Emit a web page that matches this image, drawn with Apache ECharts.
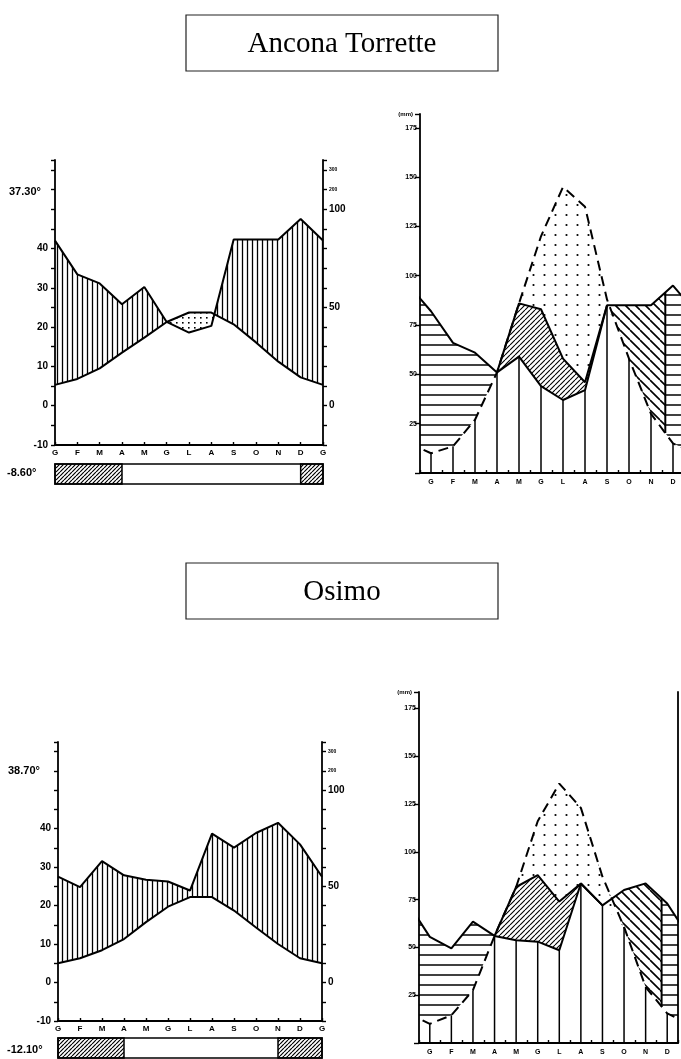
<!DOCTYPE html>
<html>
<head>
<meta charset="utf-8">
<script src="https://cdn.jsdelivr.net/npm/echarts@6/dist/echarts.min.js"></script>
<style>
html, body { margin: 0; padding: 0; background: #fff; }
#chart { width: 681px; height: 1059px; }
</style>
</head>
<body>
<div id="chart"></div>
<script>
// mesi (iniziali)
const monthsWL = ['G','F','M','A','M','G','L','A','S','O','N','D','G'];
const monthsTW = ['G','F','M','A','M','G','L','A','S','O','N','D'];

const stations = ['Ancona Torrette', 'Osimo'];
const absMax = ['37.30°', '38.70°'];
const absMin = ['-8.60°', '-12.10°'];

// diagramma di Walter-Lieth: temperatura media (°C) e piogge (mm), G..D + G
const ancTemp = [5.3, 6.8, 9.5, 13.5, 17.3, 21.3, 23.7, 23.7, 20.7, 16.1, 11.2, 7.2, 5.3];
const ancRain = [84, 66.8, 62.2, 51.6, 60.4, 42.6, 37.2, 40.6, 84.5, 84.5, 84.5, 95, 84];
const osiTemp = [5.0, 6.3, 8.4, 11.3, 15.7, 19.7, 22.2, 22.2, 18.7, 14.3, 10.0, 6.3, 5.0];
const osiRain = [55, 49.6, 63.1, 55.7, 53.4, 52.5, 47.8, 77.4, 70.1, 77.7, 83.0, 71.8, 55];
// mesi con gelo (inizio, fine)
const ancFrost = [[0, 3], [11, 12]];
const osiFrost = [[0, 3], [10, 12]];

const tempTickVals = [-10, 0, 10, 20, 30, 40];
const rainTickVals = [0, 50, 100, 110, 120];
const rainTickText = ['0', '50', '100', '200', '300'];
const mmPerDeg = 2;

// bilancio idrico di Thornthwaite (mm), G..D
const ancP   = [82, 66, 61, 51, 59, 44, 37, 42, 85, 85, 85, 95];
const ancPET = [10, 13.5, 27, 51, 86, 120, 145, 135, 88, 58, 30, 15];
const ancAET = [10, 13.5, 27, 51, 86, 83, 58, 46, 85, 58, 30, 15];
const ancFull = 10.65;   // fine ricarica del suolo
const osiP   = [55.5, 49.5, 63.5, 56, 53.7, 53, 48.5, 83.4, 72, 80, 83.5, 73];
const osiPET = [10, 14.5, 27.6, 56, 81.6, 116, 135.7, 123, 87, 60.7, 29.3, 15.5];
const osiAET = [10, 14.5, 27.6, 56, 81.6, 87.8, 74, 83.4, 72, 60.7, 29.3, 15.5];
const osiFull = 10.74;
const mmTicks = 25;

// --- retini ---
function pattern(w, h, draw) {
    const c = document.createElement('canvas');
    c.width = w; c.height = h;
    const ctx = c.getContext('2d');
    ctx.strokeStyle = '#000';
    ctx.fillStyle = '#000';
    draw(ctx, w, h);
    return { image: c, repeat: 'repeat' };
}
function diag(ctx, s, up) {
    ctx.beginPath();
    [-s, 0, s].forEach(o => {
        if (up) { ctx.moveTo(o, s); ctx.lineTo(o + s, 0); }
        else { ctx.moveTo(o, 0); ctx.lineTo(o + s, s); }
    });
    ctx.stroke();
}
const patVert = pattern(5, 5, (ctx, w, h) => {
    ctx.lineWidth = 1.3; ctx.beginPath(); ctx.moveTo(2.5, 0); ctx.lineTo(2.5, h); ctx.stroke();
});
const patDotSmall = pattern(6, 5, ctx => { ctx.fillRect(2, 2, 1.6, 1.6); });
const patHoriz = pattern(10, 10, (ctx, w) => {
    ctx.lineWidth = 1.5; ctx.beginPath(); ctx.moveTo(0, 5); ctx.lineTo(w, 5); ctx.stroke();
});
const patDiag = pattern(5, 5, ctx => { ctx.lineWidth = 1.1; diag(ctx, 5, true); });
const patBack = pattern(10, 10, ctx => { ctx.lineWidth = 1.6; diag(ctx, 10, false); });
const patDots = pattern(11, 10, ctx => { ctx.beginPath(); ctx.arc(5.5, 5, 1.1, 0, Math.PI * 2); ctx.fill(); });
const patFrost = pattern(4, 4, ctx => { ctx.lineWidth = 1.2; diag(ctx, 4, true); });

// --- utilita' ---
function interp(xs, ys, x) {
    for (let i = 0; i < xs.length - 1; i++) {
        if (x >= xs[i] && x <= xs[i + 1]) {
            const t = (x - xs[i]) / (xs[i + 1] - xs[i]);
            return ys[i] + t * (ys[i + 1] - ys[i]);
        }
    }
    return x < xs[0] ? ys[0] : ys[ys.length - 1];
}
// poligono della zona in cui hi > lo, fra x0 e x1
function zone(xs, lo, hi, x0, x1) {
    const pts = [x0, x1];
    xs.forEach(x => { if (x > x0 && x < x1) pts.push(x); });
    for (let i = 0; i < xs.length - 1; i++) {
        const d0 = hi[i] - lo[i], d1 = hi[i + 1] - lo[i + 1];
        if (d0 * d1 < 0) {
            const x = xs[i] + d0 / (d0 - d1) * (xs[i + 1] - xs[i]);
            if (x > x0 && x < x1) pts.push(x);
        }
    }
    pts.sort((a, b) => a - b);
    const top = pts.map(x => [x, Math.max(interp(xs, hi, x), interp(xs, lo, x))]);
    const bottom = pts.map(x => [x, interp(xs, lo, x)]).reverse();
    return top.concat(bottom);
}

const black = '#000';
const font = 'Liberation Sans';
const grids = [], xAxes = [], yAxes = [], series = [];

function zoneSeries(xi, yi, poly, fill) {
    return {
        type: 'custom', xAxisIndex: xi, yAxisIndex: yi, clip: true, silent: true,
        data: [[0, 0]],
        renderItem: (params, api) => ({
            type: 'polygon',
            shape: { points: poly.map(p => api.coord(p)) },
            style: { fill: fill, stroke: null }
        })
    };
}
function lineSeries(xi, yi, data, type) {
    return {
        type: 'line', xAxisIndex: xi, yAxisIndex: yi, data: data, symbol: 'none', silent: true,
        clip: true, z: 5,
        lineStyle: { color: black, width: 2, type: type || 'solid' }
    };
}
function axisLine() {
    return { show: true, onZero: false, lineStyle: { color: black, width: 1.8 } };
}
function grid(box, extra) {
    return Object.assign({ left: box[0], top: box[1], width: box[2], height: box[3],
        outerBoundsMode: 'none', containLabel: false }, extra || {});
}

function addWL(box, barBox, temp, rain, frost) {
    const g = grids.length;
    grids.push(grid(box));
    const xi = xAxes.length;
    xAxes.push({
        type: 'value', gridIndex: g, min: 0, max: 12, interval: 1,
        axisLine: axisLine(),
        axisTick: { show: true, inside: true, length: 3, lineStyle: { color: black, width: 1.4 } },
        splitLine: { show: false },
        axisLabel: { formatter: v => monthsWL[v] || '', color: black, fontSize: 8, fontWeight: 'bold', fontFamily: font, margin: 4 }
    });
    const yi = yAxes.length;
    yAxes.push({
        type: 'value', gridIndex: g, min: -10, max: 62.5, interval: 5, position: 'left',
        axisLine: axisLine(),
        axisTick: { show: true, length: 4, lineStyle: { color: black, width: 1.4 } },
        splitLine: { show: false },
        axisLabel: {
            formatter: v => tempTickVals.indexOf(Math.round(v)) >= 0 ? String(Math.round(v)) : '',
            color: black, fontSize: 10, fontWeight: 'bold', fontFamily: font, margin: 7
        }
    });
    yAxes.push({
        type: 'value', gridIndex: g, min: -10 * mmPerDeg, max: 62.5 * mmPerDeg, interval: 10, position: 'right',
        axisLine: axisLine(),
        axisTick: { show: true, length: 4, lineStyle: { color: black, width: 1.4 } },
        splitLine: { show: false },
        axisLabel: {
            formatter: v => {
                const k = rainTickVals.indexOf(Math.round(v));
                if (k < 0) return '';
                return rainTickVals[k] > 100 ? '{s|' + rainTickText[k] + '}' : rainTickText[k];
            },
            rich: { s: { fontSize: 5, fontWeight: 'bold', fontFamily: font, color: black } },
            color: black, fontSize: 10, fontWeight: 'bold', fontFamily: font, margin: 6
        }
    });
    const xs = monthsWL.map((m, i) => i);
    const half = rain.map(r => r / mmPerDeg);
    series.push(zoneSeries(xi, yi, zone(xs, temp, half, 0, 12), patVert));
    series.push(zoneSeries(xi, yi, zone(xs, half, temp, 0, 12), patDotSmall));
    series.push(lineSeries(xi, yi, xs.map((x, i) => [x, temp[i]])));
    series.push(lineSeries(xi, yi + 1, xs.map((x, i) => [x, rain[i]])));

    // barra dei mesi con gelo
    const gb = grids.length;
    grids.push(grid(barBox, { show: true, borderColor: black, borderWidth: 1.6, backgroundColor: '#fff' }));
    const xb = xAxes.length;
    xAxes.push({ type: 'value', gridIndex: gb, min: 0, max: 12, show: false });
    const yb = yAxes.length;
    yAxes.push({ type: 'value', gridIndex: gb, min: 0, max: 1, show: false });
    series.push({
        type: 'custom', xAxisIndex: xb, yAxisIndex: yb, silent: true, data: frost,
        renderItem: (params, api) => {
            const a = api.coord([api.value(0), 1]);
            const b = api.coord([api.value(1), 0]);
            return { type: 'rect', shape: { x: a[0], y: a[1], width: b[0] - a[0], height: b[1] - a[1] },
                style: { fill: patFrost, stroke: black, lineWidth: 1.5 } };
        }
    });
}

function addTW(box, yMax, P, PET, AET, full, frame) {
    const g = grids.length;
    grids.push(grid(box));
    const xv = xAxes.length;
    xAxes.push({ type: 'value', gridIndex: g, min: -0.5, max: 11.5, show: false, position: 'bottom' });
    xAxes.push({
        type: 'category', gridIndex: g, data: monthsTW, boundaryGap: true, position: 'bottom',
        axisLine: axisLine(),
        axisTick: { show: true, inside: true, length: 3, alignWithLabel: false, lineStyle: { color: black, width: 1.4 } },
        axisLabel: { color: black, fontSize: 7, fontWeight: 'bold', fontFamily: font, margin: 6 }
    });
    const yv = yAxes.length;
    yAxes.push({
        type: 'value', gridIndex: g, min: 0, max: yMax, interval: mmTicks, position: 'left',
        name: '(mm)', nameLocation: 'end', nameGap: 0,
        nameTextStyle: { fontSize: 6, fontWeight: 'bold', fontFamily: font, color: black, align: 'right', verticalAlign: 'middle', padding: [0, 7, 0, 0] },
        axisLine: axisLine(),
        axisTick: { show: true, length: 5, lineStyle: { color: black, width: 1.4 } },
        splitLine: { show: false },
        axisLabel: {
            formatter: v => (v > 0 && v % mmTicks === 0) ? String(v) : '',
            color: black, fontSize: 7, fontWeight: 'bold', fontFamily: font, margin: 3
        }
    });
    yAxes.push({
        type: 'value', gridIndex: g, min: 0, max: yMax, position: 'right', show: frame,
        axisLine: axisLine(), axisTick: { show: false }, axisLabel: { show: false }, splitLine: { show: false }
    });
    // dicembre prima e gennaio dopo, perche' le curve arrivino ai bordi
    const xs = [-1].concat(monthsTW.map((m, i) => i), [12]);
    const wrap = a => [a[a.length - 1]].concat(a, [a[0]]);
    const p = wrap(P), e = wrap(PET), a = wrap(AET);
    series.push(zoneSeries(xv, yv, zone(xs, e, p, -0.5, 4), patHoriz));      // surplus
    series.push(zoneSeries(xv, yv, zone(xs, e, p, full, 11.5), patHoriz));   // surplus
    series.push(zoneSeries(xv, yv, zone(xs, e, p, 7, full), patBack));       // ricarica
    series.push(zoneSeries(xv, yv, zone(xs, p, a, -0.5, 11.5), patDiag));    // utilizzazione
    series.push(zoneSeries(xv, yv, zone(xs, a, e, -0.5, 11.5), patDots));    // deficit
    series.push({
        type: 'custom', xAxisIndex: xv, yAxisIndex: yv, silent: true, z: 4,
        data: P.map((v, i) => [i, Math.min(v, PET[i])]),
        renderItem: (params, api) => {
            const b = api.coord([api.value(0), 0]);
            const t = api.coord([api.value(0), api.value(1)]);
            return { type: 'line', shape: { x1: b[0], y1: b[1], x2: t[0], y2: t[1] },
                style: { stroke: black, lineWidth: 1.5 } };
        }
    });
    series.push(lineSeries(xv, yv, [[full, interp(xs, e, full)], [full, interp(xs, p, full)]]));
    series.push(lineSeries(xv, yv, xs.map((x, i) => [x, p[i]])));
    series.push(lineSeries(xv, yv, xs.map((x, i) => [x, e[i]]), [10, 6]));
    series.push(lineSeries(xv, yv, AET.slice(3, 9).map((v, i) => [i + 3, v])));
}

addWL([55, 160, 268, 285], [55, 464, 268, 20], ancTemp, ancRain, ancFrost);
addTW([420, 114, 264, 359], 182, ancP, ancPET, ancAET, ancFull, false);
addWL([58, 742, 264, 279], [58, 1038, 264, 20], osiTemp, osiRain, osiFrost);
addTW([419, 692, 259, 351], 183.6, osiP, osiPET, osiAET, osiFull, true);

function label(text, x, y, size) {
    return { type: 'text', x: x, y: y, silent: true,
        style: { text: text, fill: black, font: 'bold ' + size + 'px "' + font + '"', align: 'left', verticalAlign: 'middle' } };
}
function titleBox(text, x, y, w, h) {
    return [
        { type: 'rect', silent: true, shape: { x: x, y: y, width: w, height: h }, style: { fill: '#fff', stroke: '#222', lineWidth: 1.2 } },
        { type: 'text', silent: true, x: x + w / 2, y: y + h / 2 + 1,
          style: { text: text, fill: black, font: '29px "Liberation Serif"', align: 'center', verticalAlign: 'middle' } }
    ];
}

const chart = echarts.init(document.getElementById('chart'), null, { renderer: 'canvas' });
chart.setOption({
    animation: false,
    backgroundColor: '#fff',
    grid: grids,
    xAxis: xAxes,
    yAxis: yAxes,
    series: series,
    graphic: [].concat(
        titleBox(stations[0], 186, 15, 312, 56),
        titleBox(stations[1], 186, 563, 312, 56),
        [label(absMax[0], 9, 192, 11), label(absMin[0], 7, 473, 11),
         label(absMax[1], 8, 771, 11), label(absMin[1], 7, 1050, 11)]
    )
});
</script>
</body>
</html>
